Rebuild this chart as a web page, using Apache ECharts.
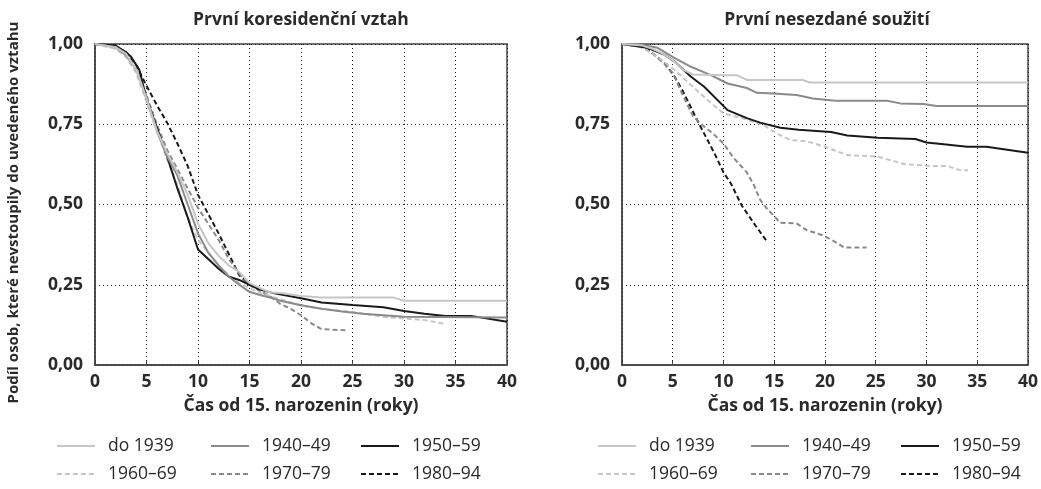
<!DOCTYPE html>
<html>
<head>
<meta charset="utf-8">
<script src="https://cdn.jsdelivr.net/npm/echarts@6/dist/echarts.min.js"></script>
<style>html,body{margin:0;padding:0;background:#fff}#c{width:1041px;height:489px}</style>
</head>
<body>
<div id="c"></div>
<script>
const seriesNames = ['do 1939', '1940–49', '1950–59', '1960–69', '1970–79', '1980–94'];
const chartTitles = ['První koresidenční vztah', 'První nesezdané soužití'];
const yAxisName = 'Podíl osob, které nevstoupily do uvedeného vztahu';
const xAxisName = 'Čas od 15. narozenin (roky)';
const xTicks = [0, 5, 10, 15, 20, 25, 30, 35, 40];
const yTicks = [0, 0.25, 0.5, 0.75, 1];

// Left panel: První koresidenční vztah  [time, share]
const L_do1939 = [[0,1],[2,0.99],[3,0.97],[4,0.92],[5,0.83],[6,0.73],[7,0.66],[8,0.6],[9,0.53],[10,0.44],[11,0.38],[12,0.34],[13,0.31],[14,0.29],[15,0.255],[16,0.24],[17,0.226],[18,0.224],[20,0.215],[22,0.21],[25,0.21],[29,0.21],[30,0.2],[40,0.2]];
const L_1940 = [[0,1],[2,0.99],[3,0.965],[4,0.92],[5,0.83],[6,0.73],[7,0.65],[8,0.59],[9,0.5],[10,0.41],[11,0.35],[12,0.31],[13,0.275],[14,0.25],[15,0.228],[16,0.218],[17,0.21],[18,0.2],[20,0.186],[22,0.175],[24,0.167],[26,0.16],[28,0.155],[30,0.15],[40,0.148]];
const L_1950 = [[0,1],[2,0.995],[3,0.975],[3.5,0.96],[4.3,0.92],[5,0.83],[6,0.74],[7,0.65],[8,0.55],[9,0.46],[10,0.36],[11,0.33],[12,0.3],[13,0.275],[14,0.265],[15,0.25],[16,0.235],[17.3,0.224],[20,0.208],[22,0.195],[25,0.187],[28,0.18],[30,0.168],[32,0.16],[34,0.153],[36.5,0.153],[40,0.135]];
const L_1960 = [[0,1],[2,0.985],[3,0.96],[4,0.91],[5,0.82],[6,0.73],[7,0.64],[8,0.56],[9,0.46],[10,0.39],[11,0.35],[12,0.31],[13,0.28],[14,0.255],[15,0.24],[16,0.225],[18,0.205],[20,0.185],[22,0.175],[25,0.165],[28,0.15],[30,0.145],[32,0.14],[34,0.128]];
const L_1970 = [[0,1],[2,0.99],[3,0.965],[4,0.92],[5,0.84],[6,0.75],[7,0.67],[8,0.61],[9,0.55],[10,0.49],[11,0.44],[12,0.39],[13,0.33],[14,0.285],[15,0.25],[16,0.23],[17,0.215],[18,0.19],[19,0.175],[20,0.155],[21,0.13],[22,0.112],[24.3,0.108]];
const L_1980 = [[0,1],[2,0.99],[3,0.975],[4,0.935],[5,0.87],[6,0.81],[7,0.755],[8,0.69],[9,0.62],[10,0.53],[11,0.47],[12,0.41],[13,0.345],[14,0.28],[15,0.25]];

// Right panel: První nesezdané soužití  [time, share]
const R_do1939 = [[0,1],[2,0.995],[3,0.985],[4,0.97],[5,0.95],[6,0.92],[7,0.905],[10,0.903],[11.3,0.903],[12.3,0.888],[17.8,0.888],[18.5,0.88],[40,0.88]];
const R_1940 = [[0,1],[1.5,1],[3.5,0.988],[5.2,0.956],[6.8,0.929],[8.75,0.903],[10.4,0.877],[12.3,0.863],[13.3,0.848],[14.9,0.846],[17.2,0.841],[18.8,0.83],[21,0.823],[26.1,0.823],[27.4,0.815],[29.7,0.813],[31,0.807],[40,0.807]];
const R_1950 = [[0,1],[2.5,0.988],[4.2,0.966],[5.2,0.945],[6.8,0.898],[8.1,0.867],[10.4,0.794],[12.3,0.769],[13.6,0.755],[15.6,0.739],[17.4,0.733],[20.6,0.726],[22.2,0.715],[25.2,0.708],[28.9,0.704],[30,0.693],[31.7,0.688],[34,0.68],[35.9,0.68],[40,0.661]];
const R_1960 = [[0,1],[2,0.99],[3.5,0.96],[5.2,0.919],[6.8,0.872],[8.4,0.826],[10,0.784],[12.3,0.765],[13.9,0.748],[15.2,0.722],[16.6,0.701],[18.2,0.697],[20,0.68],[22.2,0.654],[25.2,0.649],[27.8,0.626],[30.4,0.62],[32,0.62],[33.3,0.607],[34.1,0.607]];
const R_1970 = [[0,1],[2,0.99],[3.5,0.96],[5,0.91],[6,0.84],[7,0.775],[8,0.745],[9,0.72],[10,0.69],[11,0.645],[12.3,0.6],[13,0.56],[13.6,0.515],[14.2,0.49],[15.1,0.46],[15.6,0.443],[17.2,0.441],[18.2,0.42],[19.7,0.405],[20.7,0.389],[21.9,0.366],[24.1,0.366]];
const R_1980 = [[0,1],[1,1],[2.5,0.984],[4.2,0.94],[5.2,0.898],[6.1,0.847],[7.4,0.763],[9.1,0.66],[10,0.6],[10.7,0.567],[11.8,0.497],[13,0.441],[14.3,0.384]];

const leftData = [L_do1939, L_1940, L_1950, L_1960, L_1970, L_1980];
const rightData = [R_do1939, R_1940, R_1950, R_1960, R_1970, R_1980];

const styles = [
  {color:'#c6c6c6', type:'solid'},
  {color:'#8a8a8a', type:'solid'},
  {color:'#1a1a1a', type:'solid'},
  {color:'#c6c6c6', type:[5,3]},
  {color:'#8a8a8a', type:[5,3]},
  {color:'#1a1a1a', type:[5,3]}
];

const FONT = '"Open Sans", sans-serif';
const txtColor = '#2a2a2a';
const grids = [
  {left:95, right:534, top:44, bottom:124},
  {left:622, right:9, top:44, bottom:124}
];

function mkX(i){
  return {
    type:'value', gridIndex:i, min:0, max:40, interval:5,
    name:xAxisName, nameLocation:'middle', nameGap:32,
    nameTextStyle:{fontFamily:FONT, fontWeight:'bold', fontSize:17.5, color:txtColor},
    axisLine:{show:true, lineStyle:{color:'#444', width:1.5}},
    axisTick:{show:true, inside:true, length:4, lineStyle:{color:'#444'}},
    axisLabel:{fontFamily:FONT, fontWeight:'bold', fontSize:17.5, color:txtColor, margin:8},
    splitLine:{show:true, lineStyle:{color:'#222', type:[1,3], width:1}}
  };
}
function mkY(i){
  const y = {
    type:'value', gridIndex:i, min:0, max:1, interval:0.25,
    axisLine:{show:true, lineStyle:{color:'#444', width:1.5}},
    axisTick:{show:false},
    axisLabel:{fontFamily:FONT, fontWeight:'bold', fontSize:17.5, color:txtColor, margin:12,
      formatter:v=>v.toFixed(2).replace('.', ',')},
    splitLine:{show:true, lineStyle:{color:'#222', type:[1,3], width:1}}
  };
  if(i===0){
    y.name = yAxisName; y.nameLocation='middle'; y.nameGap=74;
    y.nameTextStyle = {fontFamily:FONT, fontWeight:'bold', fontSize:15, color:txtColor, padding:[0,16,0,0]};
  }
  return y;
}

const series = [];
[leftData, rightData].forEach((set, gi)=>{
  set.forEach((d, k)=>{
    series.push({
      type:'line', name:seriesNames[k], xAxisIndex:gi, yAxisIndex:gi,
      data:d, symbol:'none', smooth:false, animation:false,
      lineStyle:{color:styles[k].color, type:styles[k].type, width:2},
      itemStyle:{color:styles[k].color},
      z: 10 - k
    });
  });
});

const legendCols = [[56,210,360],[597,750,900]];
const legends = [];
legendCols.forEach(cols=>{
  cols.forEach((x, c)=>{
    legends.push({
      left:x, top:437, orient:'vertical', itemWidth:38, itemHeight:14, itemGap:10, padding:0,
      data:[seriesNames[c], seriesNames[c+3]], selectedMode:false,
      itemStyle:{color:'rgba(0,0,0,0)', borderColor:'rgba(0,0,0,0)', borderWidth:0, opacity:0},
      textStyle:{fontFamily:FONT, fontWeight:'normal', fontSize:17.5, color:txtColor, padding:[0,0,0,8], lineHeight:14}
    });
  });
});

const chart = echarts.init(document.getElementById('c'), null, {renderer:'canvas'});
chart.setOption({
  animation:false,
  backgroundColor:'#fff',
  title: [
    {text:chartTitles[0], left:301, top:11, padding:0, textAlign:'center', textStyle:{fontFamily:FONT, fontWeight:'bold', fontSize:17.5, color:txtColor}},
    {text:chartTitles[1], left:827, top:11, padding:0, textAlign:'center', textStyle:{fontFamily:FONT, fontWeight:'bold', fontSize:17.5, color:txtColor}}
  ],
  grid: grids.map(g=>Object.assign({show:true, borderColor:'#444', borderWidth:1.5, backgroundColor:'transparent'}, g)),
  xAxis:[mkX(0), mkX(1)],
  yAxis:[mkY(0), mkY(1)],
  legend: legends,
  series: series
});
</script>
</body>
</html>
